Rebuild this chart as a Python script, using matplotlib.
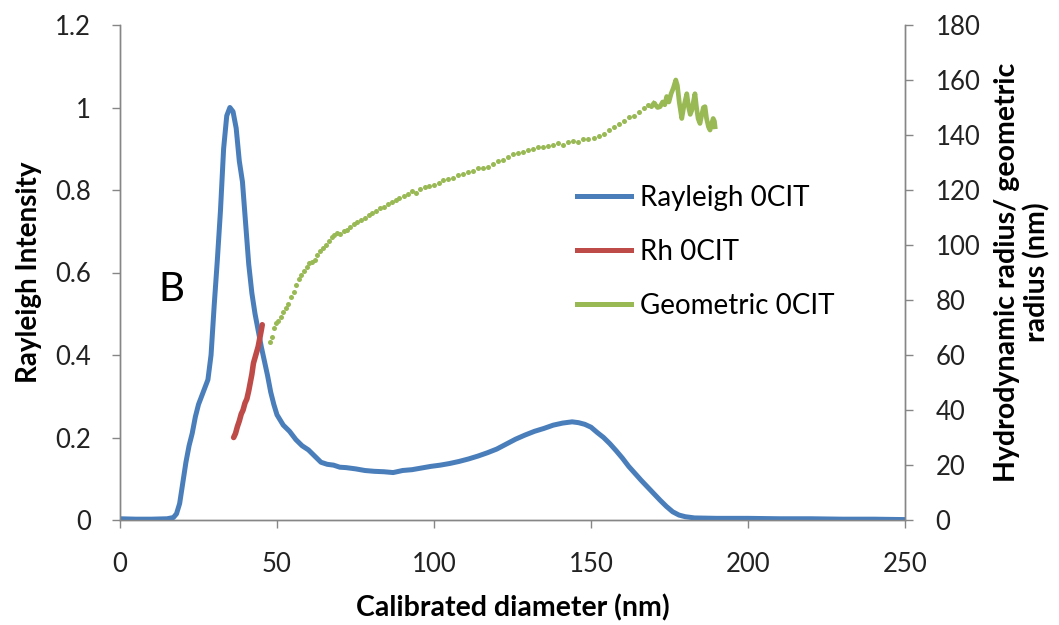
import numpy as np
import matplotlib
matplotlib.use("Agg")
import matplotlib.pyplot as plt
from matplotlib.lines import Line2D

plt.rcParams['font.family'] = ['Lato', 'DejaVu Sans']

# Rayleigh intensity (left axis)
ray_x = [0, 5, 10, 15, 17, 18, 19, 20, 21, 22, 23, 24, 25, 26, 27, 28, 29, 30, 31, 32,
         33, 34, 35, 36, 37, 38, 39, 40, 41, 42, 43, 44, 45, 46, 47, 48, 49, 50, 52, 54,
         56, 58, 60, 62, 64, 66, 68, 70, 72, 75, 78, 81, 84, 87, 90, 93, 96, 99, 102, 105,
         108, 111, 114, 117, 120, 123, 126, 129, 132, 135, 138, 141, 144, 146, 148, 150,
         152, 154, 156, 158, 160, 162, 164, 166, 168, 170, 172, 174, 176, 178, 180, 183,
         190, 200, 210, 220, 230, 240, 250]
ray_y = [0.003, 0.002, 0.002, 0.003, 0.006, 0.015, 0.04, 0.09, 0.14, 0.18, 0.21, 0.25,
         0.28, 0.30, 0.32, 0.34, 0.40, 0.52, 0.63, 0.75, 0.90, 0.98, 1.0, 0.99, 0.95, 0.87,
         0.82, 0.72, 0.62, 0.55, 0.50, 0.46, 0.42, 0.385, 0.35, 0.31, 0.28, 0.255, 0.23,
         0.215, 0.195, 0.18, 0.17, 0.155, 0.14, 0.135, 0.133, 0.128, 0.127, 0.124, 0.12,
         0.118, 0.117, 0.115, 0.12, 0.122, 0.126, 0.13, 0.133, 0.137, 0.142, 0.148, 0.155,
         0.163, 0.172, 0.184, 0.196, 0.206, 0.215, 0.222, 0.23, 0.235, 0.238, 0.236, 0.232,
         0.225, 0.212, 0.2, 0.185, 0.168, 0.15, 0.13, 0.113, 0.096, 0.08, 0.064, 0.048,
         0.033, 0.02, 0.012, 0.008, 0.005, 0.004, 0.004, 0.003, 0.003, 0.002, 0.002, 0.001]

# Hydrodynamic radius (right axis)
rh_x = [36.2, 36.8, 37.4, 38.0, 38.6, 39.2, 39.8, 40.4, 41.0, 41.5, 42.0, 42.5, 43.0,
        43.5, 44.0, 44.5, 45.0, 45.3]
rh_y = [30, 31.5, 34, 36, 38.5, 40, 42.5, 44, 47, 50, 53, 57, 59, 61, 63, 66, 69, 71]

# Geometric radius (right axis), sparse dots
geo_x = [47.8, 48.3, 49.0, 49.6, 50.4, 51.2, 52.0, 52.8, 53.6, 54.5, 55.3, 56.2, 57.0,
         57.8, 58.7, 59.5, 60.3, 61.2, 62.0, 62.9, 63.8, 64.7, 65.6, 66.5, 67.4, 68.3,
         69.2, 70.2, 71.2, 72.3, 73.4, 74.5, 75.6, 76.8, 78.0, 79.2, 80.4, 81.6, 82.8,
         84.0, 85.2, 86.5, 87.8, 89.0, 90.3, 91.6, 93.0, 94.3, 95.7, 97.1, 98.5, 100.0,
         101.5, 103.0, 104.5, 106.0, 107.6, 109.2, 110.8, 112.4, 114.0, 115.6, 117.2,
         118.8, 120.4, 122.0, 123.6, 125.2, 126.8, 128.4, 130.0, 131.6, 133.2, 134.8,
         136.4, 138.0, 139.6, 141.2, 142.8, 144.4, 146.0, 147.6, 149.2, 150.8, 152.4,
         154.0, 155.6, 157.2, 158.8, 160.4, 162.0, 163.6, 165.2, 166.8, 168.0, 169.0, 170.0]
geo_y = [64.8, 66.5, 70, 71.5, 72.5, 74, 75.5, 77, 78.5, 81, 83, 85.5, 87.5, 89, 90.5,
         92, 93.5, 94, 94.5, 96.5, 98, 99, 100, 101.5, 103, 103.5, 104.5, 104, 105, 105.5,
         106.5, 107.5, 108.5, 109, 110, 111, 111.5, 112.5, 113.5, 114, 115, 115.5, 116.5,
         117, 118, 118.5, 119.5, 119, 120.5, 121, 121.5, 122, 122.5, 123.5, 124, 124.5,
         125.5, 126, 126.5, 127, 128, 128, 128.5, 129.5, 130.5, 131, 132, 133, 133.5, 134,
         134.5, 135, 135.5, 135.5, 136, 136.5, 137, 136.5, 137.5, 138, 137.5, 138.5, 138.5,
         139, 139.5, 140.5, 142, 143, 144, 145, 146.5, 147, 148.5, 150, 151, 150.5, 151.5]
# dense noisy tail
tail_x = [170.0, 170.5, 171.2, 172.0, 172.8, 173.5, 174.1, 174.8, 175.5, 176.2, 177.0,
          177.5, 178.1, 178.9, 179.5, 180.1, 180.5, 181.1, 181.6, 182.1, 182.6, 183.1,
          183.6, 184.1, 184.7, 185.2, 185.8, 186.3, 186.8, 187.4, 187.9, 188.4, 188.9,
          189.3, 189.5]
tail_y = [151.5, 151, 150, 150.3, 152, 151, 154, 152, 155, 157, 160, 158, 152, 146, 150,
          153, 155, 150, 147.5, 149, 152, 155, 150, 146, 144.2, 147, 150, 150.3, 146, 143,
          141.8, 144, 146, 145, 143]

blue = '#4a7ebb'
red = '#be4b48'
green = '#98b954'
grey = '#868686'

fig = plt.figure(figsize=(10.59, 6.25), dpi=100)
ax = fig.add_axes([0.1133, 0.168, 0.7413, 0.792])
ax2 = ax.twinx()

ax.plot(ray_x, ray_y, color=blue, lw=3.6, solid_capstyle='round', zorder=3)
ax2.plot(rh_x, rh_y, color=red, lw=4, solid_capstyle='round')
ax2.plot(geo_x, geo_y, ls='none', marker='o', ms=3.6, color=green, mec='none')
ax2.plot(tail_x, tail_y, color=green, lw=3.4, solid_joinstyle='round')

ax.set_xlim(0, 250)
ax.set_ylim(0, 1.2)
ax2.set_ylim(0, 180)
ax.set_xticks(np.arange(0, 251, 50))
ax.set_yticks(np.arange(0, 1.21, 0.2))
ax.set_yticklabels(['0', '0.2', '0.4', '0.6', '0.8', '1', '1.2'])
ax2.set_yticks(np.arange(0, 181, 20))

for a in (ax, ax2):
    a.spines['top'].set_visible(False)
    for s in ('left', 'right', 'bottom'):
        a.spines[s].set_color(grey)
        a.spines[s].set_linewidth(1)
    a.tick_params(colors=grey, labelcolor='#222222', labelsize=18.5, length=6, width=1)
ax.tick_params(axis='x', pad=17)
ax.tick_params(axis='y', pad=15)
ax2.tick_params(axis='y', pad=16)

ax.set_xlabel('Calibrated diameter (nm)', fontsize=20.5, fontweight='bold')
ax.xaxis.set_label_coords(0.5, -0.15)
ax.set_ylabel('Rayleigh Intensity', fontsize=20, fontweight='bold')
ax.yaxis.set_label_coords(-0.099, 0.5)
ax2.set_ylabel('Hydrodynamic radius/ geometric\nradius (nm)', fontsize=20.5,
               fontweight='bold', linespacing=1.15)
ax2.yaxis.set_label_coords(1.113, 0.5)

ax.text(12.1, 0.558, 'B', fontsize=29, ha='left', va='center')

handles = [Line2D([], [], color=blue, lw=3.6),
           Line2D([], [], color=red, lw=3.6),
           Line2D([], [], color=green, lw=3.6)]
labels = ['Rayleigh 0CIT', 'Rh 0CIT', 'Geometric 0CIT']
fig.legend(handles, labels, loc='upper left', bbox_to_anchor=(0.545, 0.704),
           frameon=False, fontsize=20, handlelength=1.95, handletextpad=0.3,
           labelspacing=1.0, borderaxespad=0, borderpad=0)

fig.savefig('out.png', dpi=100)
